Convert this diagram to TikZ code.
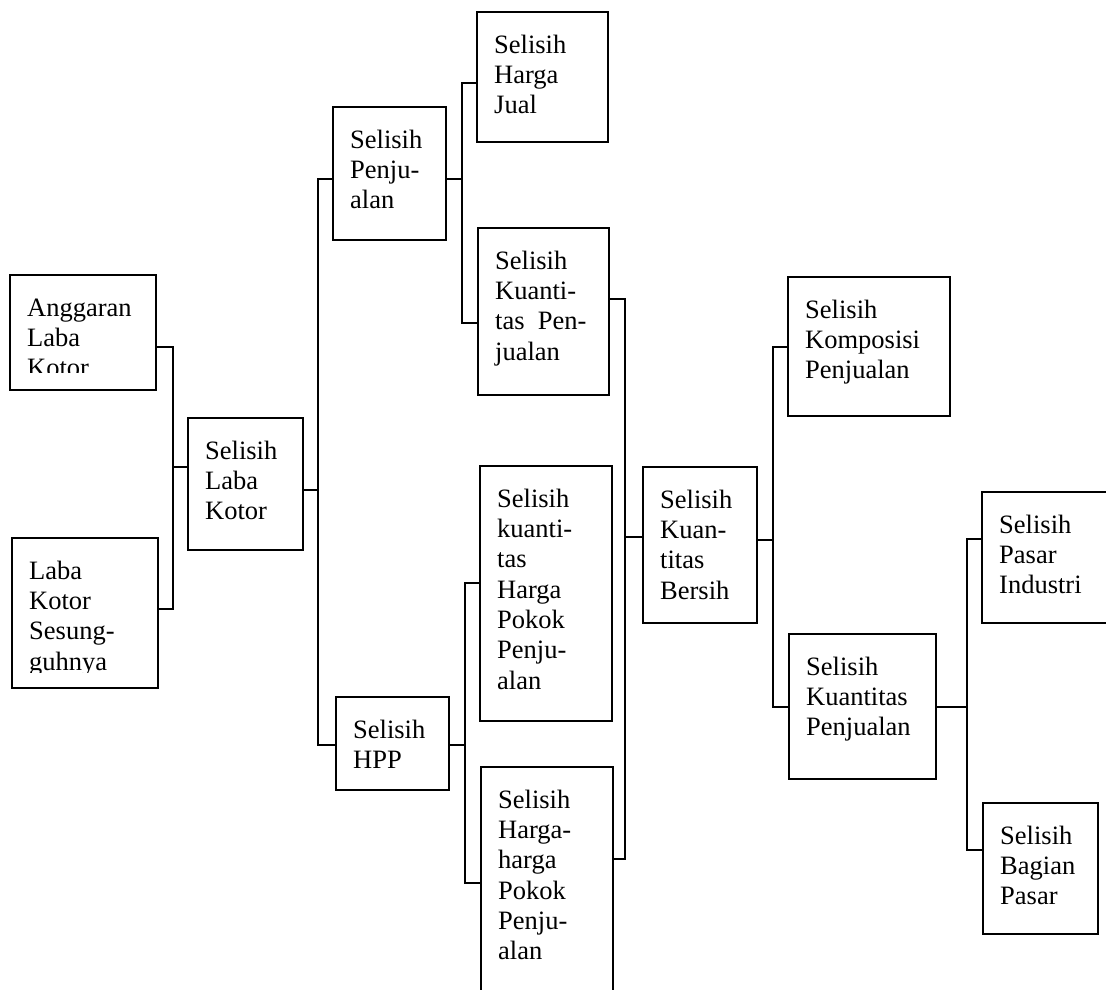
\documentclass[tikz,border=0pt]{standalone}
\usepackage{fontspec}
\setmainfont{Liberation Serif}
\usetikzlibrary{fit}

% box with its text set at the top left corner
\newcommand{\kotak}[6]{%
  \node[box, fit={(#2,#3) (#4,#5)}] (#1) {};
  \node[lbl] (#1t) at (#2+17,#3+21) {\rule{0pt}{20pt}#6};}

\begin{document}
\begin{tikzpicture}[x=1pt,y=-1pt,
  box/.style={draw, line width=1.6pt, inner sep=0pt, outer sep=0pt},
  lbl/.style={anchor=north west, inner sep=0pt, align=left,
              font=\fontsize{26.5}{30.3}\selectfont},
  link/.style={line width=1.6pt}]
\useasboundingbox (0,0) rectangle (1106,990);
\clip (0,0) rectangle (1106,990);

% first column: budget and actual gross profit (text cut short in the box)
\node[box, fit={(10,275) (156,390)}] (A) {};
\begin{scope}
  \clip (10,275) rectangle (156,372);
  \node[lbl] (At) at (27,296) {\rule{0pt}{20pt}Anggaran\\Laba\\Kotor};
\end{scope}
\node[box, fit={(12,538) (158,688)}] (B) {};
\begin{scope}
  \clip (12,538) rectangle (158,672);
  \node[lbl] (Bt) at (29,559) {\rule{0pt}{20pt}Laba\\Kotor\\Sesung-\\guhnya};
\end{scope}

\kotak{C}{188}{418}{303}{550}{Selisih\\Laba\\Kotor}
\kotak{D}{333}{107}{446}{240}{Selisih\\Penju-\\alan}
\kotak{E}{477}{12}{608}{142}{Selisih\\Harga\\Jual}
\kotak{F}{478}{228}{609}{395}{Selisih\\Kuanti-\\tas\hspace{0.5em}Pen-\\jualan}
\kotak{G}{336}{697}{449}{790}{Selisih\\HPP}
\kotak{H}{480}{466}{612}{721}{Selisih\\kuanti-\\tas\\Harga\\Pokok\\Penju-\\alan}
\kotak{I}{481}{767}{613}{1010}{Selisih\\Harga-\\harga\\Pokok\\Penju-\\alan}
\kotak{J}{643}{467}{757}{623}{Selisih\\Kuan-\\titas\\Bersih}
\kotak{K}{788}{277}{950}{416}{Selisih\\Komposisi\\Penjualan}
\kotak{L}{789}{634}{936}{779}{Selisih\\Kuantitas\\Penjualan}
\kotak{M}{982}{492}{1120}{623}{Selisih\\Pasar\\Industri}
\kotak{N}{983}{803}{1098}{934}{Selisih\\Bagian\\Pasar}

% bracket connectors
\draw[link] (A.east|-0,347) -- (173,347) -- (173,609) -- (B.east|-0,609);
\draw[link] (173,467) -- (C.west|-0,467);
\draw[link] (C.east|-0,490) -- (318,490);
\draw[link] (D.west|-0,179) -- (318,179) -- (318,745) -- (G.west|-0,745);
\draw[link] (D.east|-0,179) -- (462,179);
\draw[link] (E.west|-0,83) -- (462,83) -- (462,323) -- (F.west|-0,323);
\draw[link] (F.east|-0,299) -- (625,299) -- (625,859) -- (I.east|-0,859);
\draw[link] (625,537) -- (J.west|-0,537);
\draw[link] (G.east|-0,745) -- (465,745);
\draw[link] (H.west|-0,583) -- (465,583) -- (465,883) -- (I.west|-0,883);
\draw[link] (J.east|-0,540) -- (773,540);
\draw[link] (K.west|-0,347) -- (773,347) -- (773,707) -- (L.west|-0,707);
\draw[link] (L.east|-0,707) -- (967,707);
\draw[link] (M.west|-0,539) -- (967,539) -- (967,850) -- (N.west|-0,850);
\end{tikzpicture}
\end{document}
